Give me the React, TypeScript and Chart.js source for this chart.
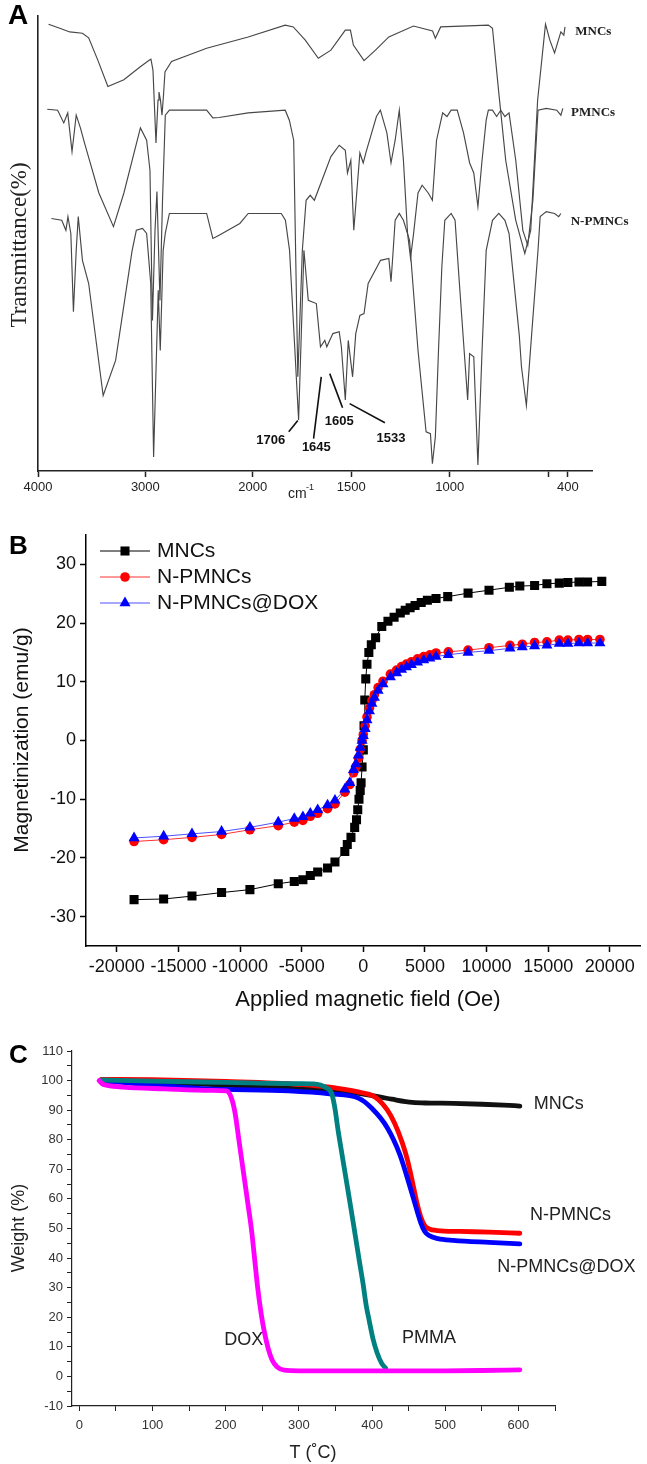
import React, { useEffect, useRef } from 'react';
import { Chart, registerables, LinearScale } from 'chart.js';

Chart.register(...registerables);

const SANS = "'Liberation Sans', Arial, Helvetica, sans-serif";
const SERIF = "'Liberation Serif', 'Times New Roman', serif";

// ---------------- Panel A : FTIR ----------------
const ftirTicks = [4000, 3000, 2000, 1500, 1000, 500, 400];
const ftirMncsWn = [3902,3797,3704,3586,3528,3443,3349,3200,3050,2968,2948,2929,2901,2882,2873,2859,2845,2831,2817,2756,2429,2042,1835,1794,1733,1667,1603,1530,1504,1489,1435,1377,1309,1184,1087,1073,1046,804,783,751,716,665,619,589,554,514,492,468,436,421,415];
const ftirMncsT = [98.2,97.3,96.5,96.2,95.2,90.3,84.5,86.0,88.8,90.2,90.5,88.1,72.1,81.5,83.3,81.5,78.2,82.6,87.7,90.0,92.9,95.4,98.0,97.6,94.7,90.7,92.5,96.9,96.9,93.6,90.2,92.5,95.4,97.8,96.7,95.1,97.6,98.0,97.3,83.1,68.3,55.1,47.8,52.9,81.5,98.2,94.7,91.9,96.5,95.8,97.6];
const ftirPmncsWn = [3914,3817,3760,3723,3683,3644,3605,3567,3433,3297,3200,3046,2988,2957,2934,2910,2892,2864,2840,2814,2776,2429,2371,2313,2042,1835,1814,1792,1771,1748,1729,1708,1687,1603,1561,1530,1519,1502,1487,1456,1439,1424,1372,1352,1319,1298,1277,1256,1235,1214,1199,1184,1161,1140,1109,1088,1067,1036,1014,993,962,930,899,878,857,836,815,804,783,762,741,720,699,665,629,604,578,552,510,457,436,426];
const ftirPmncsT = [79.5,79.3,76.5,78.7,70.2,78.2,75.4,72.1,61.1,53.7,61.1,75.4,72.7,66.1,33.1,52.9,61.4,37.5,59.5,78.2,79.3,79.3,77.6,77.7,78.7,79.3,77.1,72.7,20.7,48.5,59.5,60.6,59.5,69.1,71.6,70.5,65.5,68.3,52.9,69.9,67.7,70.2,77.9,79.3,74.3,67.7,72.7,79.3,68.3,52.2,46.8,52.0,61.1,62.8,61.1,59.5,72.7,78.7,77.9,79.3,79.3,74.3,67.7,65.5,58.1,68.3,77.1,79.3,79.3,77.9,79.3,77.9,78.7,68.3,52.9,49.6,59.5,79.3,79.7,79.3,78.2,79.7];
const ftirNpmncsWn = [3875,3779,3740,3721,3694,3670,3644,3625,3586,3528,3393,3277,3123,3084,3026,2988,2950,2923,2880,2861,2834,2814,2776,2429,2371,2313,2120,2042,1855,1834,1813,1767,1740,1718,1677,1656,1634,1624,1593,1561,1550,1530,1515,1493,1477,1456,1435,1414,1351,1309,1298,1287,1277,1256,1235,1204,1161,1120,1098,1088,1073,1057,1040,1025,993,973,951,909,899,878,857,836,815,783,751,720,699,647,636,611,584,552,541,510,468,447,436];
const ftirNpmncsT = [55.5,55.1,52.9,55.9,52.2,35.0,48.5,55.9,46.3,41.2,16.6,24.3,48.5,52.9,53.3,52.2,41.3,3.1,39.7,26.5,48.5,52.3,56.6,56.6,51.1,51.8,54.4,56.6,56.6,55.1,48.5,11.2,48.5,37.5,36.8,27.3,28.7,27.3,30.2,30.6,27.3,15.6,28.7,20.7,30.2,34.2,34.6,41.2,46.3,46.7,41.6,48.5,55.1,56.6,55.1,50.7,26.5,8.6,8.2,1.6,7.5,26.5,44.9,55.1,56.6,55.1,41.2,15.6,25.8,25.1,1.3,26.5,48.5,55.1,56.6,55.1,52.2,29.8,22.9,14.4,30.2,48.5,55.9,57.0,56.6,55.9,56.6];
const ftirSeriesNames = ['MNCs', 'PMNCs', 'N-PMNCs'];
const ftirSeriesLabelWn = [363, 384, 386];
const ftirSeriesLabelT = [96.5, 78.7, 54.8];
// annotations: label, line start (wn,T), line end (wn,T), label position (wn,T)
const ftirPeakLabels = ['1706', '1645', '1605', '1533'];
const ftirPeakLineFromWn = [1771, 1652, 1609, 1508];
const ftirPeakLineFromT = [11.1, 20.7, 21.4, 14.8];
const ftirPeakLineToWn = [1817, 1691, 1544, 1329];
const ftirPeakLineToT = [8.6, 7.1, 13.9, 10.6];
const ftirPeakTextWn = [1908, 1677, 1561, 1298];
const ftirPeakTextT = [6.8, 5.1, 10.8, 7.1];

// ---------------- Panel B : VSM ----------------
const vsmTicksX = [-20000, -15000, -10000, -5000, 0, 5000, 10000, 15000, 20000];
const vsmTicksY = [-30, -20, -10, 0, 10, 20, 30];
const vsmMncsH = [-18600,-16200,-13900,-11500,-9200,-6900,-5600,-4900,-4300,-3700,-2900,-2300,-1500,-1300,-1000,-700,-550,-450,-350,-250,-180,-100,0,60,120,200,300,450,650,1000,1500,2000,2500,3000,3400,3800,4200,4700,5200,5900,6850,8500,10200,11850,12700,13900,14900,15900,16600,17500,18200,19350];
const vsmMncsM = [-27.1,-27.0,-26.5,-25.9,-25.4,-24.4,-24.0,-23.7,-23.0,-22.4,-21.7,-20.7,-18.9,-17.7,-16.5,-14.8,-13.5,-11.8,-10.0,-8.5,-7.2,-4.5,-1.6,2.5,6.9,10.5,13.0,15.0,16.3,17.5,19.4,20.3,21.0,21.7,22.2,22.6,23.0,23.5,23.9,24.2,24.5,25.1,25.6,26.1,26.3,26.4,26.7,26.8,26.9,27.0,27.0,27.1];
const vsmFieldH = [-18600,-16200,-13900,-11500,-9200,-6900,-5600,-4900,-4300,-3700,-2900,-2300,-1500,-1100,-800,-600,-400,-250,-100,0,150,300,500,700,900,1200,1600,2200,2700,3100,3500,3900,4400,4900,5400,5900,6900,8500,10200,11900,12900,13900,14900,15900,16600,17500,18200,19200];
const vsmNpmncsM = [-17.2,-16.9,-16.5,-16.0,-15.2,-14.5,-13.9,-13.6,-12.9,-12.4,-11.6,-10.8,-8.8,-7.5,-5.5,-4.5,-3.0,-1.5,0,1.0,2.5,4.0,5.5,6.8,7.8,9.0,10.1,11.3,12.0,12.6,13.0,13.4,13.9,14.3,14.6,14.9,15.1,15.4,15.8,16.2,16.4,16.7,16.8,17.1,17.1,17.2,17.2,17.2];
const vsmDoxM = [-16.6,-16.3,-15.9,-15.5,-14.8,-13.9,-13.3,-13.0,-12.4,-11.8,-11.0,-10.2,-8.3,-7.2,-5.0,-4.0,-2.5,-1.2,0,0.8,2.0,3.5,5.0,6.3,7.3,8.5,9.6,10.8,11.5,12.1,12.5,12.9,13.3,13.7,14.0,14.3,14.6,15.0,15.3,15.7,15.9,16.1,16.2,16.5,16.5,16.6,16.6,16.6];
const vsmSeriesNames = ['MNCs', 'N-PMNCs', 'N-PMNCs@DOX'];

// ---------------- Panel C : TGA ----------------
const tgaTicksX = [0, 50, 100, 150, 200, 250, 300, 350, 400, 450, 500, 550, 600, 650];
const tgaTicksY = [-10,-5,0,5,10,15,20,25,30,35,40,45,50,55,60,65,70,75,80,85,90,95,100,105,110];
const tgaMncsT = [30,100,200,290,340,370,388,410,427,455,480,511,550,580,602];
const tgaMncsW = [100,99.5,98.5,97.4,96.8,96.0,95.4,94.5,93.7,92.6,92.4,92.3,92.0,91.7,91.4];
const tgaNpmncsT = [30,100,200,300,350,388,405,421,431,441,448,455,461,466.5,472,477.8,489,520,560,602];
const tgaNpmncsW = [100.4,100.3,99.7,98.7,97.5,95.8,94.3,90.0,85.5,79.2,73.5,66.0,59.0,54.0,51.0,49.9,49.3,49.0,48.8,48.4];
const tgaDoxLoadedT = [30,61,100,173,286,342,382,399,421,438,455,466.5,472,478,490,511,560,602];
const tgaDoxLoadedW = [100,99.3,98.5,97.2,96.5,95.5,94.0,90.8,84.0,75.0,61.5,52.0,49.0,47.6,46.6,46.0,45.3,44.8];
const tgaPmmaT = [30,100,200,300,320,337,345,349,353.7,359,365,371,376,382,387.6,392,396,401,407,413,418.6];
const tgaPmmaW = [100.2,99.8,99.4,99.0,98.9,97.6,95.5,91.0,83.0,75.0,66.0,57.0,49.3,40.0,31.5,24.0,19.0,13.0,7.9,4.5,2.8];
const tgaDoxT = [27,32,38,60,117,180,201,208,213,218,224,230,235.4,239,243.6,248,252.4,258,263.6,270,280,300,350,400,450,500,550,602];
const tgaDoxW = [100,98.8,98.4,97.8,97.2,96.7,96.5,94.0,88.8,80.0,69.5,59.0,49.3,41.0,30.2,22.0,15.6,9.5,5.5,3.3,2.1,1.9,1.9,1.9,1.9,1.9,2.0,2.2];
const tgaLabels = ['MNCs', 'N-PMNCs', 'N-PMNCs@DOX', 'DOX', 'PMMA'];
const tgaLabelT = [621, 616, 571, 198, 441];
const tgaLabelW = [92.1, 54.4, 37.0, 12.2, 12.9];

// ---------------- helpers ----------------
const zip = (xs: number[], ys: number[]) => xs.map((x, i) => ({ x, y: ys[i] }));

const FTIR_MIN = 278;
const FTIR_MAX = 4000;
const FTIR_BREAK = 2000;
const FTIR_HIGH_RATIO = 0.5448;
const compress = (v: number) => (v <= FTIR_BREAK ? v : FTIR_BREAK + (v - FTIR_BREAK) * FTIR_HIGH_RATIO);
const expand = (u: number) => (u <= FTIR_BREAK ? u : FTIR_BREAK + (u - FTIR_BREAK) / FTIR_HIGH_RATIO);

class WavenumberScale extends LinearScale {
  static id = 'wavenumber';
  getPixelForValue(value: number) {
    const uL = compress(this.max);
    const uR = compress(this.min);
    return this.getPixelForDecimal((uL - compress(value)) / (uL - uR));
  }
  getValueForPixel(pixel: number) {
    const uL = compress(this.max);
    const uR = compress(this.min);
    return expand(uL - this.getDecimalForPixel(pixel) * (uL - uR));
  }
}
Chart.register(WavenumberScale as any);

function drawText(ctx: CanvasRenderingContext2D, s: string, x: number, y: number, font: string, color: string, align: CanvasTextAlign = 'left', rot = 0) {
  ctx.save();
  ctx.font = font;
  ctx.fillStyle = color;
  ctx.textAlign = align;
  ctx.textBaseline = 'middle';
  ctx.translate(x, y);
  if (rot) ctx.rotate(rot);
  ctx.fillText(s, 0, 0);
  ctx.restore();
}

const overlay = (draw: (chart: any, ctx: CanvasRenderingContext2D) => void) => ({
  id: 'overlay',
  afterDraw(chart: any) {
    const ctx = chart.ctx;
    ctx.save();
    draw(chart, ctx);
    ctx.restore();
  },
});

const setTicks = (vals: number[]) => (scale: any) => {
  scale.ticks = vals.map((v) => ({ value: v }));
};

function makeFtir(canvas: HTMLCanvasElement) {
  const lineColor = '#474747';
  const sets = [
    zip(ftirMncsWn, ftirMncsT),
    zip(ftirPmncsWn, ftirPmncsT),
    zip(ftirNpmncsWn, ftirNpmncsT),
  ];
  return new Chart(canvas, {
    type: 'line',
    data: {
      datasets: sets.map((d, i) => ({
        label: ftirSeriesNames[i],
        data: d,
        borderColor: lineColor,
        borderWidth: 1.15,
        pointRadius: 0,
        tension: 0,
        fill: false,
      })),
    },
    options: {
      animation: false,
      responsive: false,
      devicePixelRatio: 1,
      layout: { padding: { left: 0, top: 16, right: 55, bottom: 0 } },
      plugins: { legend: { display: false }, tooltip: { enabled: false } },
      scales: {
        x: {
          type: 'wavenumber' as any,
          min: FTIR_MIN,
          max: FTIR_MAX,
          afterBuildTicks: setTicks(ftirTicks),
          afterFit: (s: any) => { s.height = 39; },
          grid: { drawOnChartArea: false, tickLength: 6, tickColor: '#222', tickWidth: 1.5 },
          border: { color: '#222', width: 1.6 },
          ticks: {
            autoSkip: false, maxRotation: 0, padding: 3, color: '#222',
            font: { family: SANS, size: 13 },
            callback: (v: any) => (v === 500 ? '' : String(v)),
          },
        } as any,
        y: {
          min: 0,
          max: 100,
          afterFit: (s: any) => { s.width = 38; },
          grid: { display: false },
          ticks: { display: false },
          border: { color: '#222', width: 1.6 },
        },
      },
    },
    plugins: [
      overlay((chart, ctx) => {
        const xs = chart.scales.x;
        const ys = chart.scales.y;
        drawText(ctx, 'A', 8, 16, `bold 28px ${SANS}`, '#000');
        drawText(ctx, 'Transmittance(%)', 20, 245, `23px ${SERIF}`, '#222', 'center', -Math.PI / 2);
        drawText(ctx, 'cm', 288, 494, `14px ${SANS}`, '#222');
        drawText(ctx, '-1', 306, 488, `9px ${SANS}`, '#222');
        ftirSeriesNames.forEach((n, i) => {
          drawText(ctx, n, xs.getPixelForValue(ftirSeriesLabelWn[i]), ys.getPixelForValue(ftirSeriesLabelT[i]), `bold 13px ${SERIF}`, '#222');
        });
        ctx.strokeStyle = '#111';
        ctx.lineWidth = 1.6;
        ftirPeakLabels.forEach((lab, i) => {
          ctx.beginPath();
          ctx.moveTo(xs.getPixelForValue(ftirPeakLineFromWn[i]), ys.getPixelForValue(ftirPeakLineFromT[i]));
          ctx.lineTo(xs.getPixelForValue(ftirPeakLineToWn[i]), ys.getPixelForValue(ftirPeakLineToT[i]));
          ctx.stroke();
          drawText(ctx, lab, xs.getPixelForValue(ftirPeakTextWn[i]), ys.getPixelForValue(ftirPeakTextT[i]), `bold 13px ${SANS}`, '#111', 'center');
        });
      }),
    ],
  } as any);
}

function drawMarker(ctx: CanvasRenderingContext2D, style: string, x: number, y: number, r: number, color: string) {
  ctx.fillStyle = color;
  ctx.beginPath();
  if (style === 'rect') {
    const h = Math.SQRT1_2 * r;
    ctx.rect(x - h, y - h, 2 * h, 2 * h);
  } else if (style === 'circle') {
    ctx.arc(x, y, r, 0, Math.PI * 2);
  } else {
    let a = 0;
    ctx.moveTo(x + Math.sin(a) * r, y - Math.cos(a) * r);
    a += (2 * Math.PI) / 3;
    ctx.lineTo(x + Math.sin(a) * r, y - Math.cos(a) * r);
    a += (2 * Math.PI) / 3;
    ctx.lineTo(x + Math.sin(a) * r, y - Math.cos(a) * r);
    ctx.closePath();
  }
  ctx.fill();
}

function makeVsm(canvas: HTMLCanvasElement) {
  const styles = [
    { line: '#000000', fill: '#000000', point: 'rect', r: 6.4 },
    { line: '#ff3030', fill: '#ff0000', point: 'circle', r: 4.8 },
    { line: '#5050ff', fill: '#0000ff', point: 'triangle', r: 6.4 },
  ];
  const sets = [zip(vsmMncsH, vsmMncsM), zip(vsmFieldH, vsmNpmncsM), zip(vsmFieldH, vsmDoxM)];
  return new Chart(canvas, {
    type: 'line',
    data: {
      datasets: sets.map((d, i) => ({
        label: vsmSeriesNames[i],
        data: d,
        borderColor: styles[i].line,
        borderWidth: 1,
        pointStyle: styles[i].point,
        pointRadius: styles[i].r,
        pointBackgroundColor: styles[i].fill,
        pointBorderWidth: 0,
        tension: 0,
        order: 2 - i,
      })),
    },
    options: {
      animation: false,
      responsive: false,
      devicePixelRatio: 1,
      layout: { padding: { left: 0, top: 25, right: 2, bottom: 0 } },
      plugins: { legend: { display: false }, tooltip: { enabled: false } },
      scales: {
        x: {
          type: 'linear',
          min: -22500,
          max: 22500,
          afterBuildTicks: setTicks(vsmTicksX),
          afterFit: (s: any) => { s.height = 84; },
          grid: { drawOnChartArea: false, tickLength: 6, tickColor: '#000', tickWidth: 1.5 },
          border: { color: '#000', width: 1.5 },
          ticks: {
            autoSkip: false, maxRotation: 0, padding: 4, color: '#111',
            font: { family: SANS, size: 18 },
            callback: (v: any) => String(v),
          },
        },
        y: {
          min: -35,
          max: 35,
          afterBuildTicks: setTicks(vsmTicksY),
          afterFit: (s: any) => { s.width = 86; },
          grid: { drawOnChartArea: false, tickLength: 6, tickColor: '#000', tickWidth: 1.5 },
          border: { color: '#000', width: 1.5 },
          ticks: { padding: 4, color: '#111', font: { family: SANS, size: 18 }, callback: (v: any) => String(v) },
        },
      },
    },
    plugins: [
      overlay((chart, ctx) => {
        drawText(ctx, 'B', 9, 37, `bold 26px ${SANS}`, '#000');
        drawText(ctx, 'Magnetinization (emu/g)', 22, 230, `21px ${SANS}`, '#111', 'center', -Math.PI / 2);
        drawText(ctx, 'Applied magnetic field (Oe)', 368, 490, `22px ${SANS}`, '#111', 'center');
        const rows = [41, 67, 93];
        vsmSeriesNames.forEach((n, i) => {
          ctx.strokeStyle = styles[i].line;
          ctx.lineWidth = 1;
          ctx.beginPath();
          ctx.moveTo(100, rows[i]);
          ctx.lineTo(150, rows[i]);
          ctx.stroke();
          drawMarker(ctx, styles[i].point, 125, rows[i], styles[i].r, styles[i].fill);
          drawText(ctx, n, 157, rows[i], `21px ${SANS}`, '#111');
        });
      }),
    ],
  } as any);
}

function makeTga(canvas: HTMLCanvasElement) {
  const colors = ['#111111', '#ff0000', '#0000ff', '#008080', '#ff00ff'];
  const sets = [
    zip(tgaMncsT, tgaMncsW),
    zip(tgaNpmncsT, tgaNpmncsW),
    zip(tgaDoxLoadedT, tgaDoxLoadedW),
    zip(tgaPmmaT, tgaPmmaW),
    zip(tgaDoxT, tgaDoxW),
  ];
  return new Chart(canvas, {
    type: 'line',
    data: {
      datasets: sets.map((d, i) => ({
        label: tgaLabels[i],
        data: d,
        borderColor: colors[i],
        borderWidth: 4.8,
        borderCapStyle: 'round',
        borderJoinStyle: 'round',
        pointRadius: 0,
        cubicInterpolationMode: 'monotone',
        order: 4 - i,
      })),
    },
    options: {
      animation: false,
      responsive: false,
      devicePixelRatio: 1,
      layout: { padding: { left: 0, top: 21, right: 92, bottom: 0 } },
      plugins: { legend: { display: false }, tooltip: { enabled: false } },
      scales: {
        x: {
          type: 'linear',
          min: -10,
          max: 650,
          afterBuildTicks: setTicks(tgaTicksX),
          afterFit: (s: any) => { s.height = 58; },
          grid: { drawOnChartArea: false, tickLength: 5, tickColor: '#222', tickWidth: 1 },
          border: { color: '#222', width: 1.2 },
          ticks: {
            autoSkip: false, maxRotation: 0, padding: 7, color: '#333',
            font: { family: SANS, size: 13 },
            callback: (v: any) => (v % 100 === 0 && v <= 600 ? String(v) : ''),
          },
        },
        y: {
          min: -10,
          max: 110,
          afterBuildTicks: setTicks(tgaTicksY),
          afterFit: (s: any) => { s.width = 72; },
          grid: { drawOnChartArea: false, tickLength: 5, tickColor: '#222', tickWidth: 1 },
          border: { color: '#222', width: 1.2 },
          ticks: {
            autoSkip: false, padding: 4, color: '#333',
            font: { family: SANS, size: 13 },
            callback: (v: any) => (v % 10 === 0 ? String(v) : ''),
          },
        },
      },
    },
    plugins: [
      overlay((chart, ctx) => {
        const xs = chart.scales.x;
        const ys = chart.scales.y;
        drawText(ctx, 'C', 9, 26, `bold 26px ${SANS}`, '#000');
        drawText(ctx, 'Weight (%)', 19, 198, `18px ${SANS}`, '#222', 'center', -Math.PI / 2);
        drawText(ctx, 'T (˚C)', 313, 423, `18px ${SANS}`, '#222', 'center');
        tgaLabels.forEach((n, i) => {
          drawText(ctx, n, xs.getPixelForValue(tgaLabelT[i]), ys.getPixelForValue(tgaLabelW[i]), `18px ${SANS}`, '#222');
        });
      }),
    ],
  } as any);
}

export default function App() {
  const aRef = useRef<HTMLCanvasElement>(null);
  const bRef = useRef<HTMLCanvasElement>(null);
  const cRef = useRef<HTMLCanvasElement>(null);
  useEffect(() => {
    const charts = [makeFtir(aRef.current!), makeVsm(bRef.current!), makeTga(cRef.current!)];
    return () => charts.forEach((c) => c.destroy());
  }, []);
  return (
    <div style={{ position: 'absolute', left: 0, top: 0, width: 647, height: 1464, background: '#fff', overflow: 'hidden' }}>
      <canvas ref={aRef} width={647} height={510} style={{ position: 'absolute', left: 0, top: 0 }} />
      <canvas ref={bRef} width={647} height={520} style={{ position: 'absolute', left: 0, top: 510 }} />
      <canvas ref={cRef} width={647} height={434} style={{ position: 'absolute', left: 0, top: 1030 }} />
    </div>
  );
}
